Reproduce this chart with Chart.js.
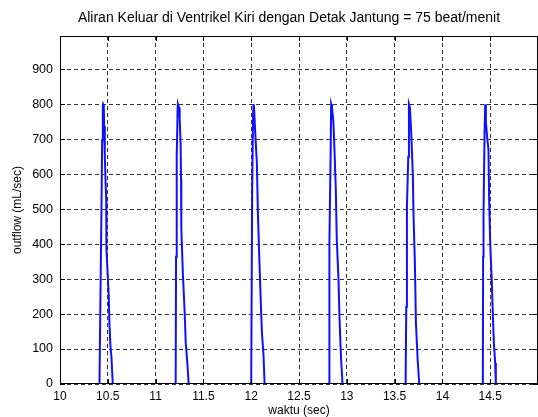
<!DOCTYPE html>
<html>
<head>
<meta charset="utf-8">
<title>Aliran Keluar di Ventrikel Kiri</title>
<script src="https://cdn.jsdelivr.net/npm/chart.js@4/dist/chart.umd.min.js"></script>
<style>
  html, body { margin: 0; padding: 0; background: #fff; }
  canvas { display: block; }
</style>
</head>
<body>
<canvas id="c" width="538" height="417"></canvas>
<script>
// Left-ventricle outflow (mL/sec) over time (sec), one ejection per beat at 75 beat/menit
const beat1Time = [10.413, 10.420, 10.434, 10.441, 10.448, 10.451, 10.458, 10.462, 10.469, 10.476, 10.483, 10.486, 10.500, 10.510, 10.517, 10.528, 10.538, 10.552];
const beat1Flow = [0, 174, 507, 698, 795, 800, 795, 738, 652, 585, 528, 384, 307, 250, 174, 107, 78, 0];

const beat2Time = [11.210, 11.214, 11.221, 11.231, 11.234, 11.245, 11.252, 11.262, 11.266, 11.269, 11.286, 11.304, 11.315, 11.332, 11.346];
const beat2Flow = [0, 364, 650, 795, 800, 790, 757, 681, 586, 443, 310, 205, 119, 60, 0];

const beat3Time = [12.000, 12.010, 12.020, 12.024, 12.030, 12.042, 12.059, 12.070, 12.084, 12.098, 12.112, 12.129, 12.140];
const beat3Flow = [0, 555, 780, 800, 790, 719, 633, 490, 367, 252, 148, 81, 0];

const beat4Time = [12.815, 12.818, 12.832, 12.836, 12.845, 12.860, 12.871, 12.885, 12.895, 12.913, 12.923, 12.937, 12.955];
const beat4Flow = [0, 403, 681, 800, 790, 748, 671, 557, 414, 300, 195, 90, 0];

const beat5Time = [13.615, 13.622, 13.629, 13.643, 13.650, 13.660, 13.674, 13.691, 13.698, 13.712, 13.723, 13.741, 13.758];
const beat5Flow = [0, 221, 507, 650, 800, 790, 719, 595, 481, 348, 176, 70, 0];

const beat6Time = [14.423, 14.426, 14.430, 14.441, 14.448, 14.455, 14.470, 14.482, 14.489, 14.500, 14.517, 14.528, 14.538, 14.552, 14.559];
const beat6Flow = [0, 364, 481, 719, 800, 748, 700, 671, 528, 403, 290, 195, 119, 60, 0];

// Axis ticks
const xTickValues = [10, 10.5, 11, 11.5, 12, 12.5, 13, 13.5, 14, 14.5];
const yTickValues = [0, 100, 200, 300, 400, 500, 600, 700, 800, 900];

const chartTitle = 'Aliran Keluar di Ventrikel Kiri dengan Detak Jantung = 75 beat/menit';

const beats = [
  [beat1Time, beat1Flow], [beat2Time, beat2Flow], [beat3Time, beat3Flow],
  [beat4Time, beat4Flow], [beat5Time, beat5Flow], [beat6Time, beat6Flow]
];

const datasets = beats.map(([t, q]) => ({
  data: t.map((v, i) => ({ x: v, y: q[i] })),
  borderColor: '#1010ff',
  borderWidth: 2,
  pointRadius: 0,
  tension: 0,
  fill: false
}));

const FONT = "'Liberation Sans', Arial, sans-serif";

// Closed box around the plot with inward tick marks, plus the heading
const framePlugin = {
  id: 'frame',
  afterDatasetsDraw(chart) {
    const { ctx, chartArea: a, scales: { x, y } } = chart;
    ctx.save();
    ctx.strokeStyle = '#000';
    ctx.lineWidth = 1;
    ctx.strokeRect(a.left + 0.5, a.top + 0.5, a.right - a.left - 1, a.bottom - a.top - 1);
    ctx.beginPath();
    x.ticks.forEach(t => {
      const px = Math.round(x.getPixelForValue(t.value)) + 0.5;
      ctx.moveTo(px, a.bottom); ctx.lineTo(px, a.bottom - 5);
      ctx.moveTo(px, a.top); ctx.lineTo(px, a.top + 5);
    });
    y.ticks.forEach(t => {
      const py = Math.round(y.getPixelForValue(t.value)) + 0.5;
      ctx.moveTo(a.left, py); ctx.lineTo(a.left + 5, py);
      ctx.moveTo(a.right, py); ctx.lineTo(a.right - 5, py);
    });
    ctx.stroke();

    ctx.fillStyle = '#000';
    ctx.font = '14px ' + FONT;
    ctx.textAlign = 'center';
    ctx.textBaseline = 'middle';
    ctx.fillText(chartTitle, 289, 18);
    ctx.restore();
  }
};

new Chart(document.getElementById('c'), {
  type: 'line',
  data: { datasets },
  plugins: [framePlugin],
  options: {
    responsive: false,
    devicePixelRatio: 1,
    animation: false,
    layout: { padding: { top: 36, left: 0, right: 0, bottom: 0 } },
    plugins: {
      legend: { display: false },
      tooltip: { enabled: false },
      title: { display: false }
    },
    scales: {
      x: {
        type: 'linear',
        min: 10,
        max: 15,
        afterBuildTicks: s => { s.ticks = xTickValues.map(v => ({ value: v })); },
        afterFit: s => { s.height = 33; },
        grid: { color: 'rgba(0,0,0,0.8)', lineWidth: 1, drawTicks: false },
        border: { display: false, dash: [4, 3] },
        ticks: {
          color: '#000',
          font: { family: FONT, size: 12 },
          padding: 5,
          maxRotation: 0,
          callback: v => String(v)
        },
        title: {
          display: true,
          text: 'waktu (sec)',
          color: '#000',
          font: { family: FONT, size: 12 },
          padding: { top: 0, bottom: -1 }
        }
      },
      y: {
        type: 'linear',
        min: 0,
        max: 995,
        afterBuildTicks: s => { s.ticks = yTickValues.map(v => ({ value: v })); },
        afterFit: s => { s.width = 60; },
        grid: { color: 'rgba(0,0,0,0.8)', lineWidth: 1, drawTicks: false },
        border: { display: false, dash: [4, 3] },
        ticks: {
          color: '#000',
          font: { family: FONT, size: 12.5 },
          padding: 7,
          callback: v => String(v)
        },
        title: {
          display: true,
          text: 'outflow (mL/sec)',
          color: '#000',
          font: { family: FONT, size: 12 },
          padding: { top: 10, bottom: 0 }
        }
      }
    }
  }
});
</script>
</body>
</html>
